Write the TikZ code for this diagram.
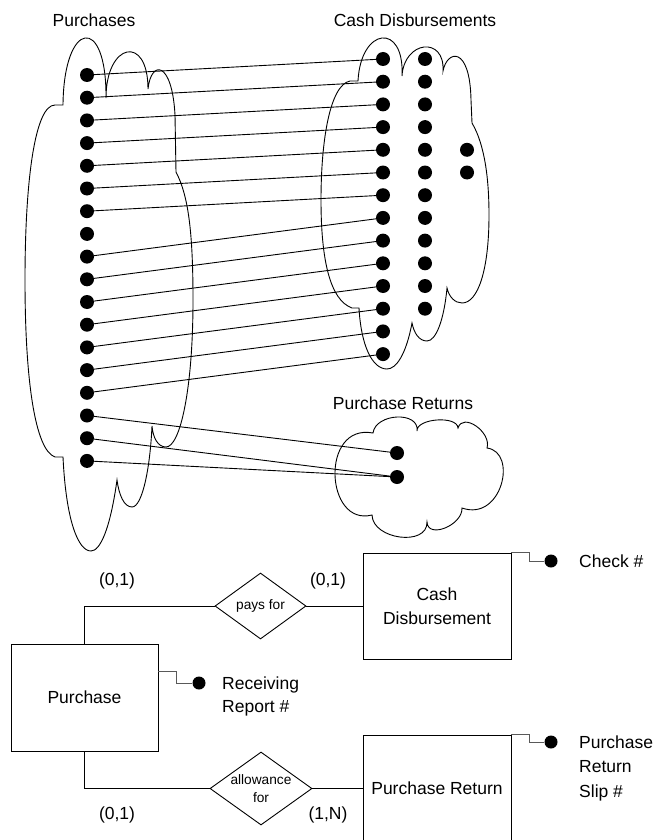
\documentclass[tikz,border=0pt]{standalone}
\usepackage{fontspec}
\setmainfont{Liberation Sans}
\usetikzlibrary{shapes.geometric}
\begin{document}
\begin{tikzpicture}[x=1pt,y=-1pt,
  outline/.style={line width=0.9pt},
  dot/.style={circle,fill=black,inner sep=0pt,minimum size=14pt},
  link/.style={line width=0.9pt},
  attrline/.style={line width=0.9pt,black!65},
  lbl/.style={inner sep=0pt,font=\fontsize{17.5}{23}\selectfont},
  small/.style={inner sep=0pt,font=\fontsize{13.7}{18}\selectfont},
  entity/.style={draw,line width=0.9pt,rectangle,inner sep=0pt,align=center,
                 font=\fontsize{17.5}{24}\selectfont},
  rel/.style={draw,line width=0.9pt,diamond,inner sep=0pt},
]
\useasboundingbox (0,0) rectangle (662,840);
\clip (0,0) rectangle (662,840);

% ---------- occurrence clouds ----------
% Purchases
\draw[outline] (55,105) -- (63,105)
  .. controls (63.7,20.3) and (106.7,13.3) .. (106,98)
  .. controls (106,42.7) and (148,33.7) .. (148,89)
  .. controls (151,60) and (172,60) .. (175,115) -- (176,172)
  .. controls (188,195) and (193,230) .. (193,300)
  .. controls (193,390) and (180,447) .. (166,447)
  .. controls (158,447) and (153,438) .. (152,426)
  .. controls (150,470) and (142,507) .. (132,507)
  .. controls (124,507) and (119,495) .. (117,480)
  .. controls (110,530) and (100,551) .. (91,551)
  .. controls (78,551) and (66,520) .. (63,457)
  -- (55,457)
  .. controls (35,450) and (25,380) .. (25,280)
  .. controls (25,180) and (35,105) .. (55,105) -- cycle;

% Cash Disbursements
\draw[outline] (350,81) -- (358,81)
  .. controls (360.7,27) and (404.7,22) .. (402,76)
  .. controls (404,40.7) and (445,35.7) .. (443,71)
  .. controls (447,50) and (470,45) .. (471,100) -- (472,123)
  .. controls (485,145) and (489,180) .. (489,215)
  .. controls (489,270) and (478,303) .. (462,303)
  .. controls (455,303) and (449,297) .. (447,288)
  .. controls (444,320) and (436,341) .. (427,341)
  .. controls (419,341) and (414,333) .. (412,323)
  .. controls (406,355) and (396,369) .. (387,369)
  .. controls (372,369) and (361,345) .. (359,308)
  -- (352,308)
  .. controls (330,300) and (321,260) .. (321,200)
  .. controls (321,140) and (330,85) .. (350,81) -- cycle;

% Purchase Returns
\draw[outline] (373,433)
  .. controls (375.7,413) and (419.7,411) .. (417,431)
  .. controls (416.3,418.3) and (457.3,415.3) .. (458,428)
  .. controls (462.7,412) and (491.7,432) .. (487,448)
  .. controls (518,452) and (502,522) .. (462,508)
  .. controls (462.7,525.3) and (427.7,539.3) .. (427,522)
  .. controls (427.7,546.7) and (372.7,539.7) .. (372,515)
  .. controls (325,527) and (320,423) .. (373,433) -- cycle;

\node[lbl] (purchasesttl) at (94,20) {Purchases};
\node[lbl] (cashttl) at (415,20) {Cash Disbursements};
\node[lbl] (returnsttl) at (403,403) {Purchase Returns};

% ---------- occurrences ----------
\foreach \i in {1,...,18}
  \node[dot] (p\i) at (87,{75+22.7*(\i-1)}) {};
\foreach \j in {1,...,14}
  \node[dot] (c\j) at (383,{59+22.7*(\j-1)}) {};
\foreach \j in {1,...,12}
  \node[dot] (d\j) at (425,{59+22.7*(\j-1)}) {};
\node[dot] (e1) at (467,149.8) {};
\node[dot] (e2) at (467,172.5) {};
\node[dot] (r1) at (397,453) {};
\node[dot] (r2) at (397,477) {};

\foreach \i/\j in {1/1,2/2,3/3,4/4,5/5,6/6,7/7,9/8,10/9,11/10,12/11,13/12,14/13,15/14}
  \draw[link] (p\i) -- (c\j);
\draw[link] (p16) -- (r1);
\draw[link] (p17) -- (r2);
\draw[link] (p18) -- (r2);

% ---------- ER model ----------
\node[entity, minimum width=147pt, minimum height=107pt] (purchase) at (84.5,697.5) {Purchase};
\node[entity, minimum width=148pt, minimum height=106pt] (cd) at (437,606) {Cash\\Disbursement};
\node[entity, minimum width=148pt, minimum height=130pt] (pr) at (437,800) {};
\node[lbl] (prtxt) at (437,788) {Purchase Return};

\node[rel, minimum width=91pt, minimum height=66pt] (pays) at (260.5,606) {};
\node[small] (paystxt) at (pays.center) {pays for};
\node[rel, minimum width=102pt, minimum height=73pt] (allow) at (261,788.5) {};
\node[small, align=center] (allowtxt) at (allow.center) {allowance\\for};

\draw[link] (purchase.north) |- (pays.west);
\draw[link] (pays.east) -- (cd.west);
\draw[link] (purchase.south) |- (allow.west);
\draw[link] (allow.east) -- (allow.east -| pr.west);

\node[lbl] (card1) at (117,581) {(0,1)};
\node[lbl] (card2) at (328,581) {(0,1)};
\node[lbl] (card3) at (117,815) {(0,1)};
\node[lbl] (card4) at (328,815) {(1,N)};

% identifying attributes
\node[dot, minimum size=13pt] (rrdot) at (199,683) {};
\coordinate (rrstart) at (158,671);
\draw[attrline] (rrstart) -- ++(18,0) |- (rrdot);
\node[lbl, anchor=west, align=left] (rrtxt) at (222,696) {Receiving\\Report \#};

\node[dot, minimum size=13pt] (ckdot) at (551,561) {};
\draw[attrline] (cd.north east) -- ++(18,0) |- (ckdot);
\node[lbl, anchor=west] (cktxt) at (579,561) {Check \#};

\node[dot, minimum size=13pt] (psdot) at (551,742) {};
\draw[attrline] (pr.north east) -- ++(18,0) |- (psdot);
\node[lbl, anchor=west, align=left, font=\fontsize{17.5}{24.5}\selectfont] (pstxt) at (579,768) {Purchase\\Return\\Slip \#};
\end{tikzpicture}
\end{document}
